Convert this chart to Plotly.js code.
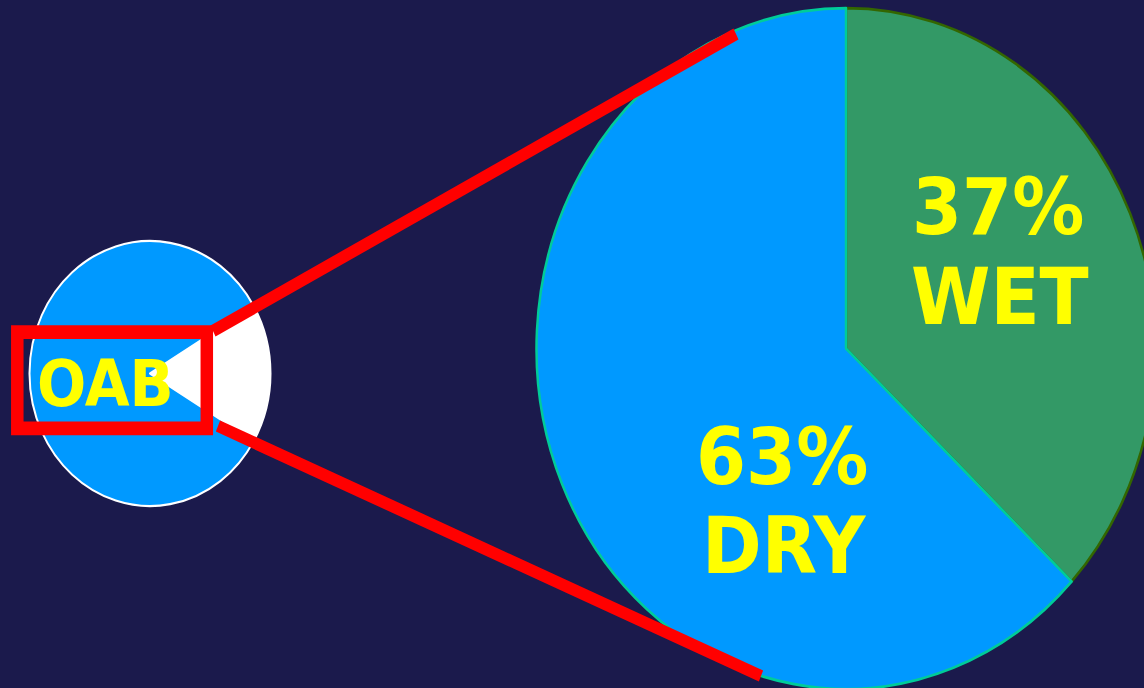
<!DOCTYPE html>
<html>
<head>
<meta charset="utf-8">
<script src="https://cdn.plot.ly/plotly-3.0.1.min.js"></script>
<style>
  html, body { margin: 0; padding: 0; width: 1144px; height: 688px; overflow: hidden; background: #1B1A4C; }
  #chart { transform-origin: 0 0; transform: scaleY(1.1); }
</style>
</head>
<body>
<div id="chart"></div>
<script>
// ---- data ----
const overviewLabels = ['OAB', 'Other'];
const overviewValues = [17, 83];
const oabLabels = ['WET', 'DRY'];
const oabValues = [37, 63];

// ---- layout helpers (reference pixel -> paper fraction) ----
const W = 1170, H = 640, S = 1.1;
const px = x => x / W;
const py = y => 1 - (y / S) / H;

function domainFor(cx, cy, r) {
  const cyPre = cy / S;
  return {
    x: [(cx - r) / W, (cx + r) / W],
    y: [1 - (cyPre + r) / H, 1 - (cyPre - r) / H]
  };
}

const BG = '#1B1A4C', BLUE = '#0099FF', GREEN = '#339966', YELLOW = '#FFFF00', RED = '#FF0000';

const ovSum = overviewValues.reduce((a, b) => a + b, 0);
const smallPie = {
  type: 'pie',
  labels: overviewLabels,
  values: overviewValues,
  sort: false,
  direction: 'clockwise',
  rotation: 90 - (overviewValues[0] / ovSum) * 180,
  marker: { colors: ['#FFFFFF', BLUE], line: { color: '#FFFFFF', width: 2 } },
  textinfo: 'none',
  hoverinfo: 'none',
  domain: domainFor(150, 373.5, 120.5)
};

const bigPie = {
  type: 'pie',
  labels: oabLabels,
  values: oabValues,
  sort: false,
  direction: 'clockwise',
  rotation: 0,
  marker: { colors: [GREEN, BLUE], line: { color: ['#336600', '#00CC99'], width: 2.5 } },
  textinfo: 'none',
  hoverinfo: 'none',
  domain: domainFor(846, 348.5, 309.5)
};

const bigFont = { family: 'DejaVu Sans', size: 72, color: YELLOW };
function ann(text, x, y, font) {
  return { text: '<b>' + text + '</b>', x: px(x), y: py(y), xref: 'paper', yref: 'paper',
           xanchor: 'center', yanchor: 'middle', showarrow: false, font: font };
}

const annotations = [
  ann(overviewLabels[0], 105, 384, { family: 'DejaVu Sans', size: 58, color: YELLOW }),
  ann(oabValues[0] + '%', 998, 207, bigFont),
  ann(oabLabels[0], 1000, 297, bigFont),
  ann(oabValues[1] + '%', 782, 456, bigFont),
  ann(oabLabels[1], 784, 546, bigFont)
];

const shapes = [
  { type: 'rect', xref: 'paper', yref: 'paper', x0: px(17.3), x1: px(206.8), y0: py(332), y1: py(428.3),
    line: { color: RED, width: 12.5 }, fillcolor: 'rgba(0,0,0,0)' },
  { type: 'line', xref: 'paper', yref: 'paper', x0: px(213), y0: py(331), x1: px(736), y1: py(34),
    line: { color: RED, width: 11 } },
  { type: 'line', xref: 'paper', yref: 'paper', x0: px(218), y0: py(426), x1: px(761), y1: py(676),
    line: { color: RED, width: 11 } }
];

const layout = {
  width: W, height: H,
  margin: { l: 0, r: 0, t: 0, b: 0, pad: 0 },
  paper_bgcolor: BG, plot_bgcolor: BG,
  showlegend: false,
  annotations: annotations,
  shapes: shapes
};

Plotly.newPlot('chart', [smallPie, bigPie], layout, { displayModeBar: false, staticPlot: true });
</script>
</body>
</html>
